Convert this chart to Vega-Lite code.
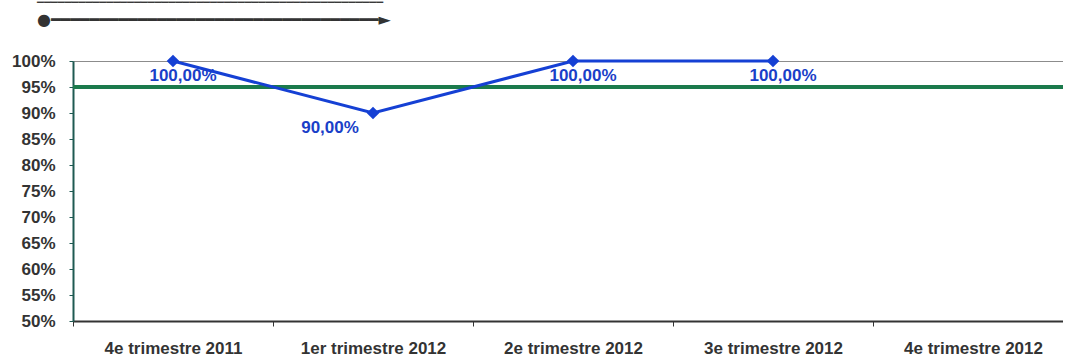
{
  "$schema": "https://vega.github.io/schema/vega-lite/v6.json",
  "width": 990,
  "height": 260,
  "autosize": {"type": "none"},
  "padding": {"left": 73, "top": 61, "right": 0, "bottom": 40},
  "title": {
    "text": "▔▔▔▔▔▔▔▔▔▔▔▔▔▔▔▔▔▔▔▔▔▔▔▔▔▔▔▔▔▔▔▔▔▔▔▔▔▔▔▔▔▔▔▔▔▔▔▔▔▔",
    "subtitle": "●━━━━━━━━━━━━━━━━━━━━━━━━━━━━━━━━━━►",
    "anchor": "start",
    "frame": "group",
    "dx": -36,
    "offset": 24,
    "font": "DejaVu Sans",
    "fontSize": 9,
    "fontWeight": "normal",
    "color": "#3a3a3a",
    "subtitleFont": "DejaVu Sans",
    "subtitleFontSize": 16,
    "subtitleColor": "#333333",
    "subtitlePadding": 0
  },
  "config": {
    "view": {"stroke": "#8c8c8c", "strokeWidth": 1},
    "font": "Liberation Sans",
    "locale": {
      "number": {"decimal": ",", "thousands": " ", "grouping": [3], "currency": ["", " €"]}
    }
  },
  "data": {
    "values": [
      {"trimestre": "4e trimestre 2011", "taux": 1.0},
      {"trimestre": "1er trimestre 2012", "taux": 0.9},
      {"trimestre": "2e trimestre 2012", "taux": 1.0},
      {"trimestre": "3e trimestre 2012", "taux": 1.0},
      {"trimestre": "4e trimestre 2012", "taux": null}
    ]
  },
  "encoding": {
    "x": {
      "field": "trimestre",
      "type": "nominal",
      "sort": null,
      "scale": {
        "domain": ["4e trimestre 2011", "1er trimestre 2012", "2e trimestre 2012", "3e trimestre 2012", "4e trimestre 2012"],
        "range": [0, 1000],
        "paddingInner": 0,
        "paddingOuter": 0
      },
      "axis": {
        "title": null,
        "labelAngle": 0,
        "tickBand": "extent",
        "domainColor": "#333333",
        "domainWidth": 2,
        "tickColor": "#333333",
        "tickSize": 5,
        "labelFontSize": 17,
        "labelFontWeight": "bold",
        "labelColor": "#333333",
        "labelPadding": 14
      }
    },
    "y": {
      "field": "taux",
      "type": "quantitative",
      "scale": {"domain": [0.5, 1.0], "nice": false, "zero": false},
      "axis": {
        "title": null,
        "grid": false,
        "values": [0.5, 0.55, 0.6, 0.65, 0.7, 0.75, 0.8, 0.85, 0.9, 0.95, 1.0],
        "format": ".0%",
        "domainColor": "#1f5a52",
        "domainWidth": 2,
        "tickColor": "#1f5a52",
        "tickSize": 4,
        "labelFontSize": 17,
        "labelFontWeight": "bold",
        "labelColor": "#333333",
        "labelPadding": 14
      }
    }
  },
  "layer": [
    {
      "data": {"values": [{"objectif": 0.95}]},
      "mark": {"type": "rule", "color": "#1b7a4c", "strokeWidth": 4},
      "encoding": {
        "x": null,
        "y": {"field": "objectif", "type": "quantitative"}
      }
    },
    {
      "mark": {"type": "line", "color": "#1540d4", "strokeWidth": 3}
    },
    {
      "mark": {"type": "point", "shape": "diamond", "filled": true, "size": 160, "color": "#1540d4", "opacity": 1}
    },
    {
      "transform": [{"filter": "datum.taux >= 0.95"}],
      "mark": {"type": "text", "color": "#1a3fc8", "fontSize": 17, "fontWeight": "bold", "dx": 10, "dy": 15},
      "encoding": {"text": {"field": "taux", "type": "quantitative", "format": ".2%"}}
    },
    {
      "transform": [{"filter": "datum.taux < 0.95"}],
      "mark": {"type": "text", "color": "#1a3fc8", "fontSize": 17, "fontWeight": "bold", "dx": -43, "dy": 15},
      "encoding": {"text": {"field": "taux", "type": "quantitative", "format": ".2%"}}
    }
  ]
}
